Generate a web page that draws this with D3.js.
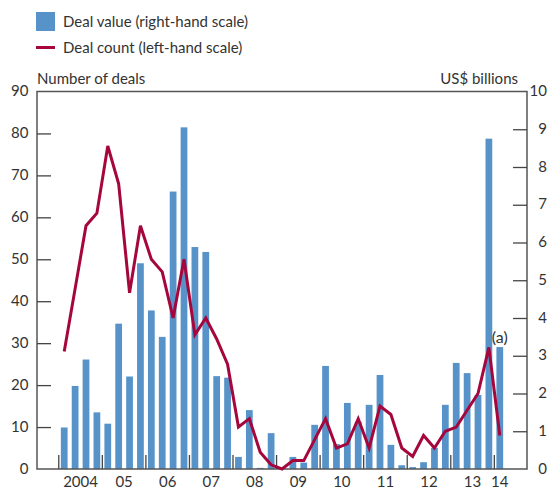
<!DOCTYPE html>
<html>
<head>
<meta charset="utf-8">
<script src="https://cdn.jsdelivr.net/npm/d3@7"></script>
<style>
  html, body { margin: 0; padding: 0; background: #fff; }
  svg { display: block; }
  text { font-family: Lato, "Open Sans", sans-serif; fill: #333; }
</style>
</head>
<body>
<div id="chart"></div>
<script>
// Quarterly series, 2004 Q1 to 2014 Q1
const quarters = [
  "2004Q1","2004Q2","2004Q3","2004Q4",
  "2005Q1","2005Q2","2005Q3","2005Q4",
  "2006Q1","2006Q2","2006Q3","2006Q4",
  "2007Q1","2007Q2","2007Q3","2007Q4",
  "2008Q1","2008Q2","2008Q3","2008Q4",
  "2009Q1","2009Q2","2009Q3","2009Q4",
  "2010Q1","2010Q2","2010Q3","2010Q4",
  "2011Q1","2011Q2","2011Q3","2011Q4",
  "2012Q1","2012Q2","2012Q3","2012Q4",
  "2013Q1","2013Q2","2013Q3","2013Q4",
  "2014Q1"
];

// Deal value, US$ billions (right-hand scale)
const dealValue = [
  1.1, 2.2, 2.9, 1.5,
  1.2, 3.85, 2.45, 5.45,
  4.2, 3.5, 7.35, 9.05,
  5.88, 5.75, 2.46, 2.42,
  0.32, 1.56, 0.03, 0.95,
  0.02, 0.32, 0.17, 1.17,
  2.73, 0.66, 1.75, 1.25,
  1.7, 2.49, 0.64, 0.1,
  0.05, 0.18, 0.56, 1.7,
  2.81, 2.54, 1.96, 8.75,
  3.23
];

// Number of deals (left-hand scale)
const dealCount = [
  28, 43, 58, 61,
  77, 68, 42, 58,
  50, 47, 36, 50,
  32, 36, 31, 25,
  10, 12, 4, 1,
  0, 2, 2, 7,
  12, 5, 6, 12,
  5, 15, 13, 5,
  3, 8, 5, 9,
  10, 14, 18, 29,
  8
];

const yearLabels = ["2004","05","06","07","08","09","10","11","12","13","14"];
const leftTicks = [0,10,20,30,40,50,60,70,80,90];
const rightTicks = [0,1,2,3,4,5,6,7,8,9,10];

const W = 548, H = 489;
const plot = { left: 37, right: 527, top: 91.5, bottom: 469 };
const barColor = "#5793c8";
const lineColor = "#a5073d";
const axisColor = "#444";

const svg = d3.select("#chart").append("svg")
  .attr("width", W).attr("height", H);

// Quarter index scale, padded by two quarters on each side
const x = d3.scaleLinear().domain([-2, quarters.length + 2]).range([plot.left, plot.right]);
const yL = d3.scaleLinear().domain([0, 90]).range([plot.bottom, plot.top]);
const yR = d3.scaleLinear().domain([0, 10]).range([plot.bottom, plot.top]);

const barW = (x(1) - x(0)) * 0.62;

// Bars: deal value
svg.append("g").selectAll("rect")
  .data(dealValue)
  .join("rect")
  .attr("x", (d, i) => x(i + 0.5) - barW / 2)
  .attr("width", barW)
  .attr("y", d => yR(d))
  .attr("height", d => yR(0) - yR(d))
  .attr("fill", barColor);

// Frame
svg.append("rect")
  .attr("x", plot.left).attr("y", plot.top)
  .attr("width", plot.right - plot.left).attr("height", plot.bottom - plot.top)
  .attr("fill", "none").attr("stroke", "#555").attr("stroke-width", 1.5);

// Left axis (ticks pointing inward)
const axL = svg.append("g").attr("transform", `translate(${plot.left},0)`)
  .call(d3.axisRight(yL).tickValues(leftTicks).tickSize(14).tickFormat(""));
axL.select(".domain").remove();
axL.selectAll("line").attr("stroke", axisColor).attr("stroke-width", 1.3)
  .filter(d => d === 0 || d === 90).remove();
svg.append("g").selectAll("text")
  .data(leftTicks).join("text")
  .attr("x", plot.left - 8.5).attr("y", d => yL(d) + 4.5)
  .attr("text-anchor", "end").attr("font-size", 15)
  .text(d => d);

// Right axis (ticks pointing inward)
const axR = svg.append("g").attr("transform", `translate(${plot.right},0)`)
  .call(d3.axisLeft(yR).tickValues(rightTicks).tickSize(14).tickFormat(""));
axR.select(".domain").remove();
axR.selectAll("line").attr("stroke", axisColor).attr("stroke-width", 1.3)
  .filter(d => d === 0 || d === 10).remove();
svg.append("g").selectAll("text")
  .data(rightTicks).join("text")
  .attr("x", W - 1).attr("y", d => yR(d) + 4.5)
  .attr("text-anchor", "end").attr("font-size", 15)
  .text(d => d);

// Year ticks on the baseline, pointing up
const yearStarts = d3.range(0, quarters.length, 4);
svg.append("g").selectAll("line")
  .data(yearStarts).join("line")
  .attr("x1", d => x(d)).attr("x2", d => x(d))
  .attr("y1", plot.bottom).attr("y2", plot.bottom - 14)
  .attr("stroke", axisColor).attr("stroke-width", 1.3);

// Year labels: centred on each year, last one on its single quarter
svg.append("g").selectAll("text")
  .data(yearLabels).join("text")
  .attr("x", (d, i) => i < yearLabels.length - 1 ? x(i * 4 + 2) : x(i * 4 + 0.5))
  .attr("y", 487)
  .attr("text-anchor", "middle").attr("font-size", 15)
  .text(d => d);

// Line: deal count
const line = d3.line()
  .x((d, i) => x(i + 0.5))
  .y(d => yL(d));
svg.append("path")
  .datum(dealCount)
  .attr("d", line)
  .attr("fill", "none")
  .attr("stroke", lineColor)
  .attr("stroke-width", 3)
  .attr("stroke-linejoin", "miter");

// Footnote marker on the latest quarter
svg.append("text")
  .attr("x", x(quarters.length - 0.5))
  .attr("y", yR(dealValue[dealValue.length - 1]) - 4)
  .attr("text-anchor", "middle").attr("font-size", 16)
  .text("(a)");

// Axis titles
svg.append("text").attr("x", plot.left).attr("y", 83.5)
  .attr("font-size", 15).text("Number of deals");
svg.append("text").attr("x", 518).attr("y", 83.5)
  .attr("text-anchor", "end").attr("font-size", 15).text("US$ billions");

// Legend
const lg = svg.append("g");
lg.append("rect").attr("x", 36).attr("y", 12).attr("width", 19).attr("height", 19).attr("fill", barColor);
lg.append("text").attr("x", 63).attr("y", 27).attr("font-size", 15).text("Deal value (right-hand scale)");
lg.append("line").attr("x1", 36).attr("x2", 55).attr("y1", 47.5).attr("y2", 47.5)
  .attr("stroke", lineColor).attr("stroke-width", 3);
lg.append("text").attr("x", 63).attr("y", 53).attr("font-size", 15).text("Deal count (left-hand scale)");
</script>
</body>
</html>
